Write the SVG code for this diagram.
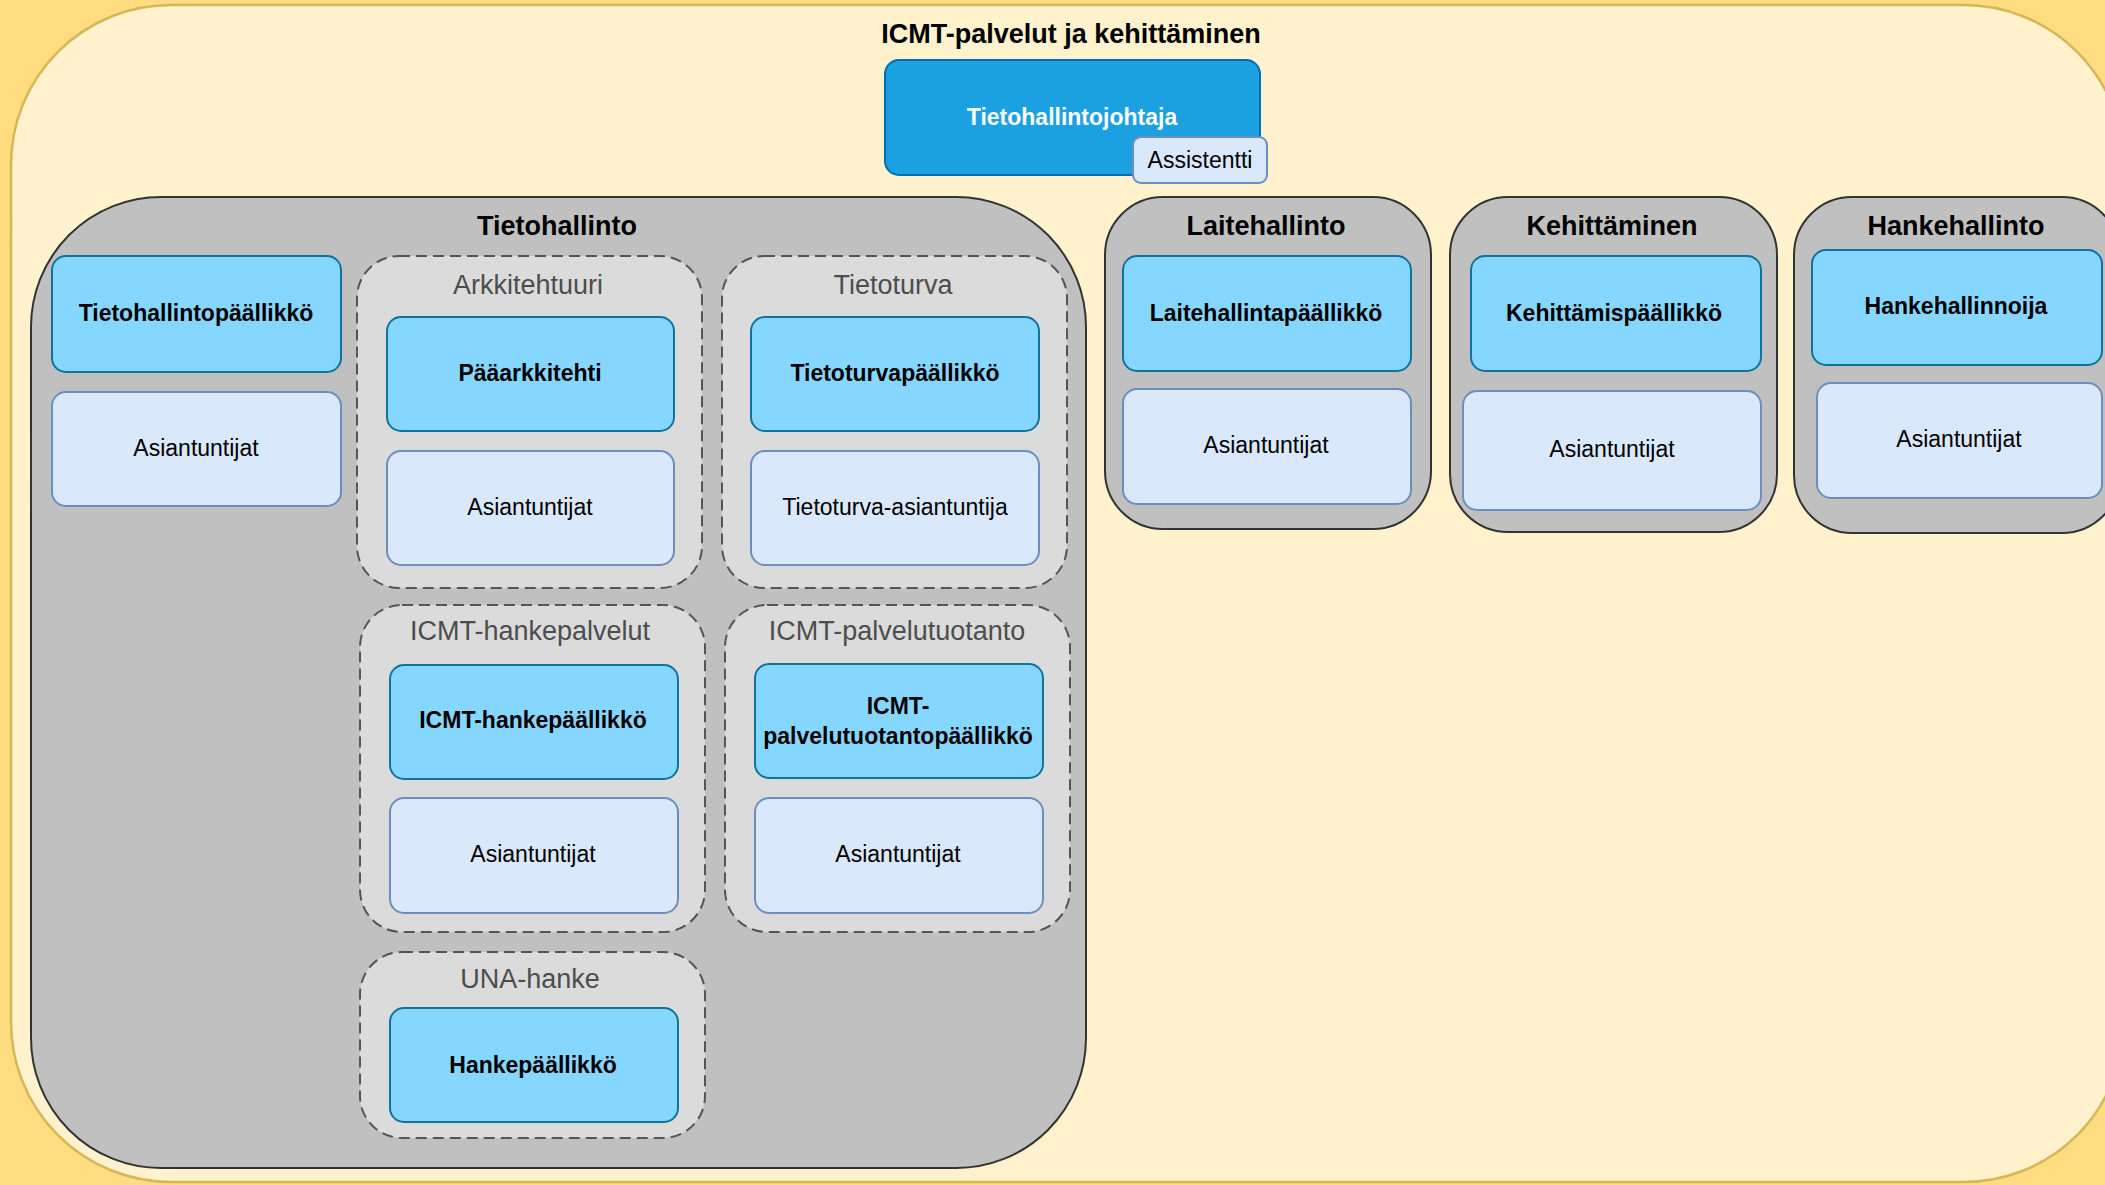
<svg xmlns="http://www.w3.org/2000/svg" width="2105" height="1185" viewBox="0 0 2105 1185">
<style>
text{font-family:"Liberation Sans",Arial,sans-serif;text-anchor:middle;dominant-baseline:central}
.grp{fill:#C0C0C0;stroke:#333333;stroke-width:2}
.sub{fill:#DBDBDB;stroke:#555555;stroke-width:2;stroke-dasharray:11 6}
.head{fill:#86D7FF;stroke:#10739E;stroke-width:2}
.staff{fill:#DAE8FC;stroke:#6C8EBF;stroke-width:2}
.gt{font-size:27px;font-weight:bold;fill:#000}
.st{font-size:27px;fill:#4D4D4D}
.hb{font-size:23px;font-weight:bold;fill:#000}
.sn{font-size:23px;fill:#000}
</style>
<rect x="0" y="0" width="2105" height="1185" fill="#FFDC80"/>
<g id="root">
<rect x="11" y="5" width="2113" height="1177" rx="160" ry="160" fill="#FFF2CC" stroke="#D6B656" stroke-width="2.5"/>
<text class="gt" x="1071" y="34">ICMT-palvelut ja kehittäminen</text>
</g>
<g id="tietohallintojohtaja">
<rect x="885" y="60" width="375" height="115" rx="14" fill="#1BA1E2" stroke="#006EAF" stroke-width="2"/>
<text class="hb" x="1072" y="117" fill="#FFFFFF" style="fill:#FFFFFF">Tietohallintojohtaja</text>
</g>
<g id="assistentti">
<rect x="1133" y="137" width="134" height="46" rx="8" class="staff"/>
<text class="sn" x="1200" y="160">Assistentti</text>
</g>
<g id="tietohallinto">
<rect class="grp" x="31" y="197" width="1055" height="971" rx="130" ry="130"/>
<text class="gt" x="557" y="226">Tietohallinto</text>
</g>
<g id="tietohallintopaallikko">
<rect class="head" x="52" y="256" width="289" height="116" rx="14"/>
<text class="hb" x="196" y="313">Tietohallintopäällikkö</text>
</g>
<g id="th-asiantuntijat">
<rect class="staff" x="52" y="392" width="289" height="114" rx="14"/>
<text class="sn" x="196" y="448">Asiantuntijat</text>
</g>
<g id="arkkitehtuuri">
<rect class="sub" x="357" y="256" width="345" height="332" rx="42"/>
<text class="st" x="528" y="285">Arkkitehtuuri</text>
</g>
<g id="paaarkkitehti">
<rect class="head" x="387" y="317" width="287" height="114" rx="14"/>
<text class="hb" x="530" y="373">Pääarkkitehti</text>
</g>
<g id="ark-asiantuntijat">
<rect class="staff" x="387" y="451" width="287" height="114" rx="14"/>
<text class="sn" x="530" y="507">Asiantuntijat</text>
</g>
<g id="tietoturva">
<rect class="sub" x="722" y="256" width="345" height="332" rx="42"/>
<text class="st" x="893" y="285">Tietoturva</text>
</g>
<g id="tietoturvapaallikko">
<rect class="head" x="751" y="317" width="288" height="114" rx="14"/>
<text class="hb" x="895" y="373">Tietoturvapäällikkö</text>
</g>
<g id="tietoturva-asiantuntija">
<rect class="staff" x="751" y="451" width="288" height="114" rx="14"/>
<text class="sn" x="895" y="507">Tietoturva-asiantuntija</text>
</g>
<g id="icmt-hankepalvelut">
<rect class="sub" x="360" y="605" width="345" height="327" rx="42"/>
<text class="st" x="530" y="631">ICMT-hankepalvelut</text>
</g>
<g id="icmt-hankepaallikko">
<rect class="head" x="390" y="665" width="288" height="114" rx="14"/>
<text class="hb" x="533" y="720">ICMT-hankepäällikkö</text>
</g>
<g id="hp-asiantuntijat">
<rect class="staff" x="390" y="798" width="288" height="115" rx="14"/>
<text class="sn" x="533" y="854">Asiantuntijat</text>
</g>
<g id="icmt-palvelutuotanto">
<rect class="sub" x="725" y="605" width="345" height="327" rx="42"/>
<text class="st" x="897" y="631">ICMT-palvelutuotanto</text>
</g>
<g id="icmt-palvelutuotantopaallikko">
<rect class="head" x="755" y="664" width="288" height="114" rx="14"/>
<text class="hb" x="898" y="706">ICMT-</text>
<text class="hb" x="898" y="736">palvelutuotantopäällikkö</text>
</g>
<g id="pt-asiantuntijat">
<rect class="staff" x="755" y="798" width="288" height="115" rx="14"/>
<text class="sn" x="898" y="854">Asiantuntijat</text>
</g>
<g id="una-hanke">
<rect class="sub" x="360" y="952" width="345" height="186" rx="42"/>
<text class="st" x="530" y="979">UNA-hanke</text>
</g>
<g id="hankepaallikko">
<rect class="head" x="390" y="1008" width="288" height="114" rx="14"/>
<text class="hb" x="533" y="1065">Hankepäällikkö</text>
</g>
<g id="laitehallinto">
<rect class="grp" x="1105" y="197" width="326" height="332" rx="58"/>
<text class="gt" x="1266" y="226">Laitehallinto</text>
</g>
<g id="laitehallintapaallikko">
<rect class="head" x="1123" y="256" width="288" height="115" rx="14"/>
<text class="hb" x="1266" y="313">Laitehallintapäällikkö</text>
</g>
<g id="lh-asiantuntijat">
<rect class="staff" x="1123" y="389" width="288" height="115" rx="14"/>
<text class="sn" x="1266" y="445">Asiantuntijat</text>
</g>
<g id="kehittaminen">
<rect class="grp" x="1450" y="197" width="327" height="335" rx="58"/>
<text class="gt" x="1612" y="226">Kehittäminen</text>
</g>
<g id="kehittamispaallikko">
<rect class="head" x="1471" y="256" width="290" height="115" rx="14"/>
<text class="hb" x="1614" y="313">Kehittämispäällikkö</text>
</g>
<g id="keh-asiantuntijat">
<rect class="staff" x="1463" y="391" width="298" height="119" rx="14"/>
<text class="sn" x="1612" y="449">Asiantuntijat</text>
</g>
<g id="hankehallinto">
<rect class="grp" x="1794" y="197" width="326" height="336" rx="58"/>
<text class="gt" x="1956" y="226">Hankehallinto</text>
</g>
<g id="hankehallinnoija">
<rect class="head" x="1812" y="250" width="290" height="115" rx="14"/>
<text class="hb" x="1956" y="306">Hankehallinnoija</text>
</g>
<g id="hh-asiantuntijat">
<rect class="staff" x="1817" y="383" width="285" height="115" rx="14"/>
<text class="sn" x="1959" y="439">Asiantuntijat</text>
</g>
<g id="connectors"/>
</svg>
